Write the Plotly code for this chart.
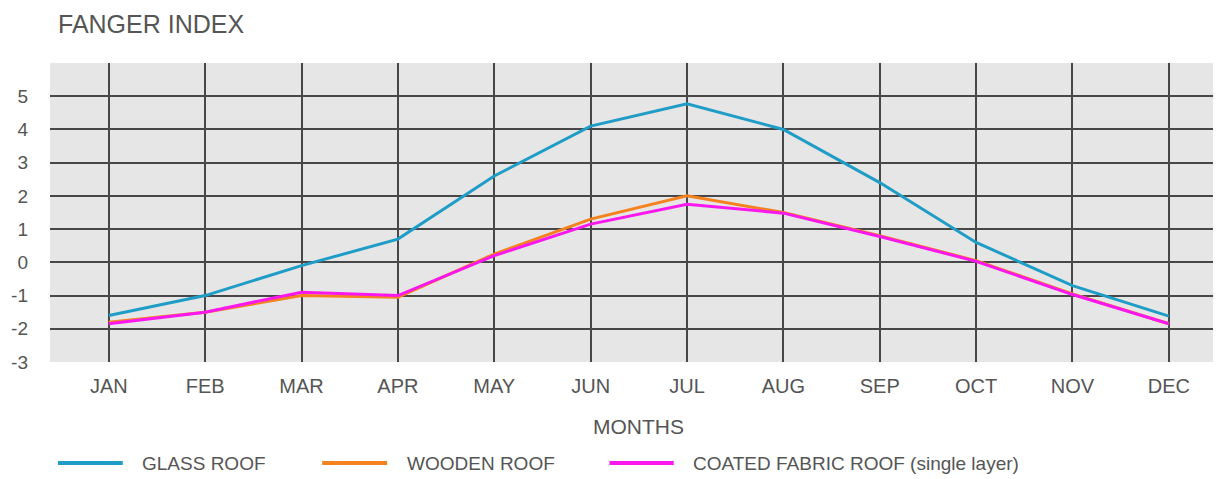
import plotly.graph_objects as go

months = ["JAN", "FEB", "MAR", "APR", "MAY", "JUN", "JUL", "AUG", "SEP", "OCT", "NOV", "DEC"]
glass_roof = [-1.6, -1.0, -0.1, 0.7, 2.6, 4.1, 4.77, 4.0, 2.4, 0.6, -0.7, -1.62]
wooden_roof = [-1.8, -1.5, -1.0, -1.05, 0.25, 1.3, 2.0, 1.5, 0.8, 0.05, -0.95, -1.85]
fabric_roof = [-1.85, -1.5, -0.9, -1.0, 0.2, 1.15, 1.75, 1.48, 0.78, 0.03, -0.97, -1.85]
series_names = ["GLASS ROOF", "WOODEN ROOF", "COATED FABRIC ROOF (single layer)"]
series_colors = ["#1f9dc6", "#f5821f", "#fa18ee"]
y_ticks = [-3, -2, -1, 0, 1, 2, 3, 4, 5]

FONT = "Liberation Sans, Arial, sans-serif"
TXT = "#555555"

fig = go.Figure()
x_idx = list(range(len(months)))
for name, vals, col in zip(series_names, [glass_roof, wooden_roof, fabric_roof], series_colors):
    fig.add_trace(go.Scatter(x=x_idx, y=vals, mode="lines", name=name,
                             line=dict(color=col, width=3), showlegend=False))

# manual legend (sample line + label)
leg_line_x = [(0.0068, 0.0623), (0.233, 0.2886), (0.479, 0.534)]
leg_text_x = [0.0769, 0.304, 0.549]
leg_y = -0.338
shapes = []
annotations = []
for i, (name, col) in enumerate(zip(series_names, series_colors)):
    x0, x1 = leg_line_x[i]
    shapes.append(dict(type="line", xref="paper", yref="paper", x0=x0, x1=x1,
                       y0=leg_y, y1=leg_y, line=dict(color=col, width=4)))
    annotations.append(dict(xref="paper", yref="paper", x=leg_text_x[i], y=leg_y,
                            text=name, showarrow=False, xanchor="left", yanchor="middle",
                            font=dict(family=FONT, size=19, color=TXT)))

annotations.append(dict(xref="paper", yref="paper", x=0.504, y=-0.217, text="MONTHS",
                        showarrow=False, xanchor="center", yanchor="middle",
                        font=dict(family=FONT, size=21, color=TXT)))
annotations.append(dict(xref="paper", yref="paper", x=0.005, y=1.1835, text="FANGER INDEX",
                        showarrow=False, xanchor="left", yanchor="top",
                        font=dict(family=FONT, size=25, color=TXT)))

fig.update_layout(
    width=1213, height=471,
    margin=dict(l=39, r=3, t=55, b=117),
    paper_bgcolor="white", plot_bgcolor="#e6e6e6",
    shapes=shapes, annotations=annotations,
    font=dict(family=FONT, color=TXT),
    xaxis=dict(range=[-0.61, 11.51], tickvals=x_idx, ticktext=months,
               showgrid=True, gridcolor="#474747", gridwidth=1.6, zeroline=False,
               showline=False, ticks="", tickfont=dict(family=FONT, size=20, color=TXT),
               ticklabelstandoff=10),
    yaxis=dict(range=[-3, 6], tickvals=y_ticks + [6], ticktext=[str(v) for v in y_ticks] + [""],
               showgrid=True, gridcolor="#474747", gridwidth=1.6, zeroline=False,
               showline=False, ticks="", tickfont=dict(family=FONT, size=19, color=TXT),
               ticklabelstandoff=21),
)

fig.write_html("out.html")
